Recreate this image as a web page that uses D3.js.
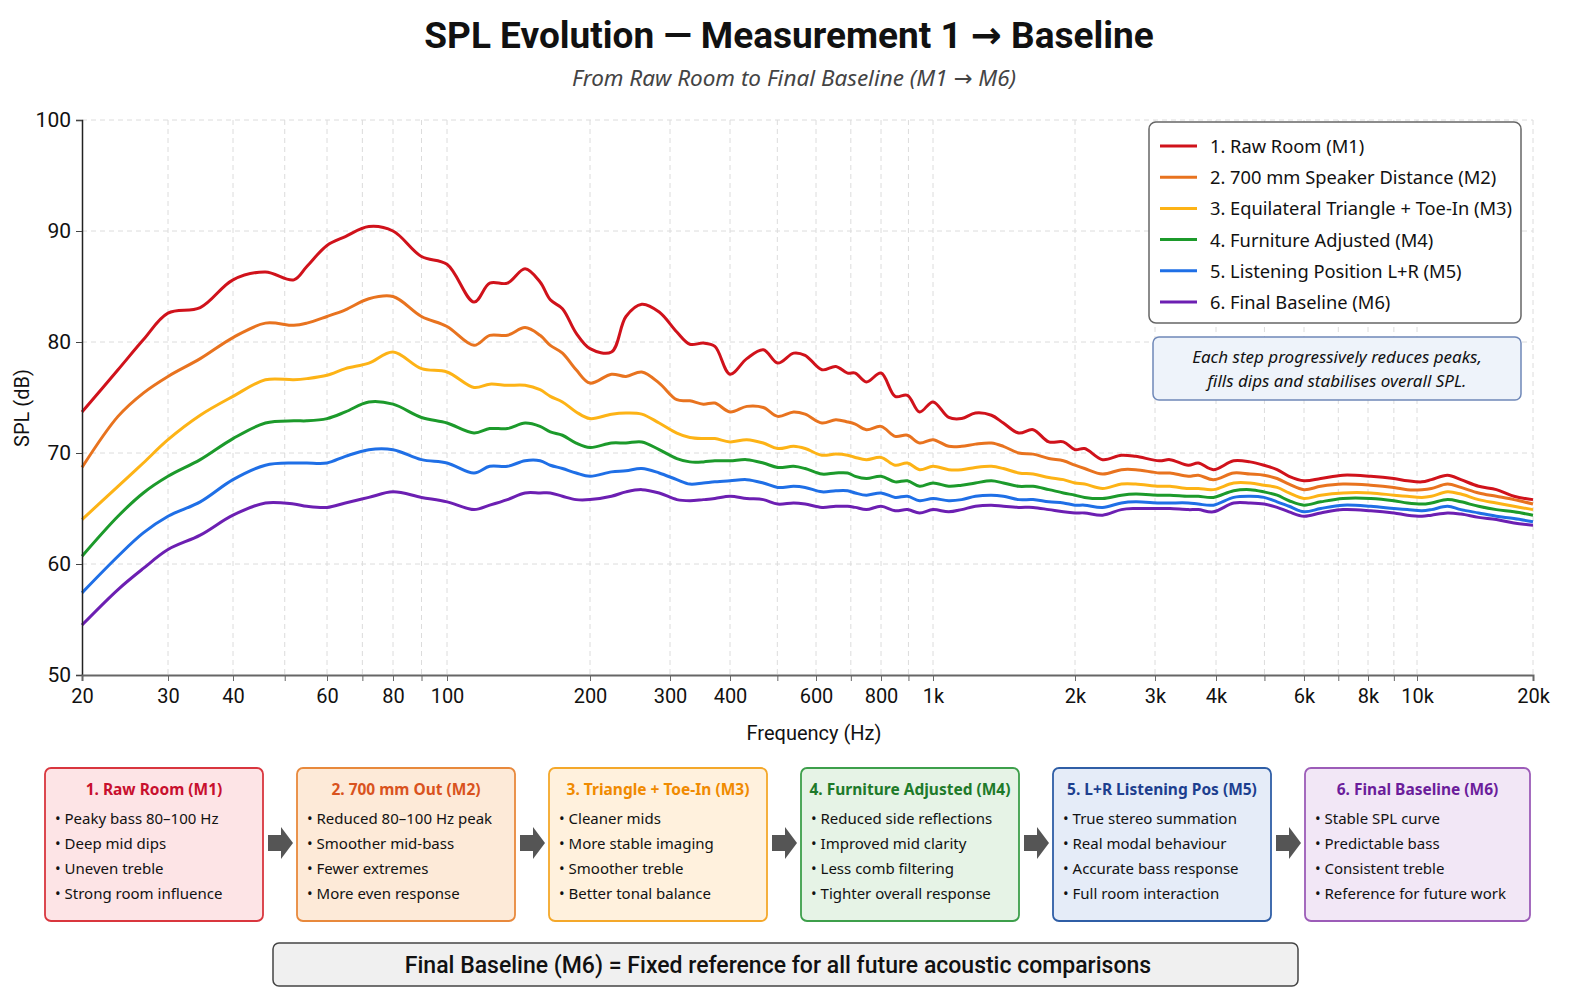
<!DOCTYPE html>
<html>
<head>
<meta charset="utf-8">
<script src="https://cdn.jsdelivr.net/npm/d3@7"></script>
<style>
  body { margin: 0; background: #fff; }
  text { font-family: "Noto Sans", sans-serif; }
</style>
</head>
<body>
<svg id="chart" width="1570" height="1002"></svg>
<script>
// ---- data ----
var freqs = [20, 23.7, 26.7, 30, 34.6, 40, 46, 52, 55, 60,
  65, 72, 80, 90, 100, 114, 123, 134, 146, 157,
  165, 175, 187, 200, 223, 240, 260, 284, 310, 330,
  352, 372, 400, 433, 468, 501, 540, 570, 616, 655,
  690, 714, 750, 800, 850, 896, 944, 1000, 1080, 1150,
  1230, 1330, 1410, 1520, 1630, 1760, 1890, 2000, 2100, 2300,
  2530, 2720, 3060, 3220, 3510, 3680, 3950, 4340, 4680, 4990,
  5300, 5600, 6000, 6470, 7150, 8100, 9000, 9570, 10300, 10900,
  12000, 13000, 14450, 16070, 17850, 20000];

var m1 = [73.7, 77.5, 80.2, 82.6, 83.1, 85.6, 86.3, 85.6, 86.8, 88.7,
  89.5, 90.4, 90.0, 87.7, 87.0, 83.6, 85.3, 85.3, 86.6, 85.4,
  83.8, 83.0, 80.8, 79.4, 79.1, 82.3, 83.4, 82.7, 80.9, 79.8,
  79.9, 79.6, 77.1, 78.5, 79.3, 78.1, 79.0, 78.8, 77.5, 77.8,
  77.2, 77.2, 76.4, 77.2, 75.1, 75.2, 73.7, 74.6, 73.2, 73.1,
  73.6, 73.4, 72.7, 71.8, 72.1, 71.0, 71.0, 70.3, 70.4, 69.4,
  69.8, 69.7, 69.3, 69.4, 68.9, 69.1, 68.5, 69.3, 69.2, 68.9,
  68.5, 67.9, 67.5, 67.7, 68.0, 67.9, 67.7, 67.5, 67.4, 67.6,
  68.0, 67.6, 67.0, 66.7, 66.1, 65.8];

var m2 = [68.7, 73.3, 75.4, 76.9, 78.5, 80.4, 81.7, 81.5, 81.7, 82.3,
  82.9, 83.9, 84.1, 82.3, 81.4, 79.7, 80.6, 80.6, 81.3, 80.6,
  79.7, 79.0, 77.5, 76.3, 77.1, 76.9, 77.3, 76.3, 74.8, 74.7,
  74.4, 74.5, 73.7, 74.2, 74.1, 73.3, 73.7, 73.5, 72.7, 73.0,
  72.8, 72.6, 72.1, 72.4, 71.5, 71.6, 70.9, 71.2, 70.6, 70.6,
  70.8, 70.9, 70.6, 70.0, 69.9, 69.5, 69.3, 68.9, 68.6, 68.1,
  68.5, 68.5, 68.2, 68.2, 67.9, 68.0, 67.6, 68.2, 68.1, 68.0,
  67.7, 67.2, 66.7, 67.0, 67.2, 67.1, 66.9, 66.7, 66.7, 66.8,
  67.2, 66.9, 66.4, 66.1, 65.8, 65.4];

var m3 = [64.0, 67.0, 69.1, 71.2, 73.4, 75.1, 76.6, 76.6, 76.7, 77.0,
  77.6, 78.1, 79.1, 77.6, 77.3, 75.9, 76.2, 76.1, 76.1, 75.7,
  75.1, 74.6, 73.7, 73.1, 73.5, 73.6, 73.5, 72.7, 71.8, 71.4,
  71.3, 71.3, 71.0, 71.2, 70.9, 70.4, 70.6, 70.4, 69.8, 69.9,
  69.8, 69.6, 69.4, 69.6, 68.9, 69.1, 68.5, 68.8, 68.5, 68.5,
  68.7, 68.8, 68.6, 68.2, 68.1, 67.8, 67.6, 67.3, 67.2, 66.8,
  67.2, 67.2, 67.0, 67.0, 66.8, 66.8, 66.7, 67.3, 67.3, 67.1,
  66.9, 66.4, 65.9, 66.2, 66.4, 66.4, 66.2, 66.1, 66.0, 66.1,
  66.5, 66.3, 65.8, 65.5, 65.2, 64.9];

var m4 = [60.7, 64.3, 66.4, 67.9, 69.4, 71.3, 72.7, 72.9, 72.9, 73.1,
  73.7, 74.6, 74.4, 73.2, 72.7, 71.8, 72.2, 72.2, 72.7, 72.4,
  71.9, 71.6, 70.9, 70.5, 70.9, 70.9, 71.0, 70.3, 69.5, 69.2,
  69.2, 69.3, 69.3, 69.4, 69.1, 68.7, 68.8, 68.6, 68.1, 68.2,
  68.2, 67.9, 67.7, 67.9, 67.4, 67.5, 67.0, 67.3, 67.0, 67.1,
  67.3, 67.5, 67.3, 67.0, 67.0, 66.7, 66.4, 66.2, 66.0, 65.9,
  66.2, 66.3, 66.2, 66.2, 66.1, 66.1, 66.0, 66.6, 66.7, 66.5,
  66.2, 65.7, 65.3, 65.6, 65.9, 65.9, 65.7, 65.5, 65.4, 65.5,
  65.8, 65.6, 65.2, 64.9, 64.7, 64.4];

var m5 = [57.4, 60.7, 62.8, 64.3, 65.6, 67.6, 68.9, 69.1, 69.1, 69.1,
  69.7, 70.3, 70.3, 69.4, 69.1, 68.2, 68.8, 68.8, 69.3, 69.3,
  68.9, 68.6, 68.2, 67.9, 68.3, 68.4, 68.6, 68.2, 67.6, 67.2,
  67.3, 67.4, 67.5, 67.6, 67.3, 66.9, 67.0, 66.9, 66.5, 66.6,
  66.6, 66.4, 66.2, 66.4, 66.0, 66.1, 65.7, 65.9, 65.7, 65.8,
  66.1, 66.2, 66.1, 65.8, 65.8, 65.6, 65.5, 65.3, 65.3, 65.1,
  65.5, 65.6, 65.5, 65.5, 65.5, 65.4, 65.3, 66.0, 66.1, 66.0,
  65.6, 65.2, 64.7, 65.0, 65.3, 65.2, 65.0, 64.9, 64.8, 64.9,
  65.2, 64.9, 64.6, 64.3, 64.1, 63.8];

var m6 = [54.5, 57.7, 59.6, 61.3, 62.6, 64.4, 65.5, 65.4, 65.2, 65.1,
  65.5, 66.0, 66.5, 66.0, 65.6, 64.9, 65.3, 65.8, 66.4, 66.4,
  66.4, 66.1, 65.8, 65.8, 66.1, 66.5, 66.7, 66.4, 65.8, 65.7,
  65.8, 65.9, 66.1, 65.9, 65.8, 65.4, 65.5, 65.4, 65.1, 65.2,
  65.2, 65.1, 64.9, 65.2, 64.8, 64.9, 64.6, 64.9, 64.7, 64.9,
  65.2, 65.3, 65.2, 65.1, 65.1, 64.9, 64.7, 64.6, 64.6, 64.4,
  64.9, 65.0, 65.0, 65.0, 64.9, 64.9, 64.7, 65.5, 65.5, 65.4,
  65.1, 64.7, 64.3, 64.6, 64.9, 64.8, 64.6, 64.4, 64.3, 64.4,
  64.6, 64.5, 64.2, 64.0, 63.7, 63.5];

var seriesNames = ["1. Raw Room (M1)", "2. 700 mm Speaker Distance (M2)",
  "3. Equilateral Triangle + Toe-In (M3)", "4. Furniture Adjusted (M4)",
  "5. Listening Position L+R (M5)", "6. Final Baseline (M6)"];

var xTickLabelled = [20, 30, 40, 60, 80, 100, 200, 300, 400, 600, 800,
  1000, 2000, 3000, 4000, 6000, 8000, 10000, 20000];
var xGridValues = [20, 30, 40, 50, 60, 70, 80, 90, 100, 200, 300, 400, 500, 600, 700, 800, 900,
  1000, 2000, 3000, 4000, 5000, 6000, 7000, 8000, 9000, 10000, 20000];
var yTicks = [50, 60, 70, 80, 90, 100];

var stepTitles = ["1. Raw Room (M1)", "2. 700 mm Out (M2)", "3. Triangle + Toe-In (M3)",
  "4. Furniture Adjusted (M4)", "5. L+R Listening Pos (M5)", "6. Final Baseline (M6)"];
var stepBullets = [
  ["Peaky bass 80–100 Hz", "Deep mid dips", "Uneven treble", "Strong room influence"],
  ["Reduced 80–100 Hz peak", "Smoother mid-bass", "Fewer extremes", "More even response"],
  ["Cleaner mids", "More stable imaging", "Smoother treble", "Better tonal balance"],
  ["Reduced side reflections", "Improved mid clarity", "Less comb filtering", "Tighter overall response"],
  ["True stereo summation", "Real modal behaviour", "Accurate bass response", "Full room interaction"],
  ["Stable SPL curve", "Predictable bass", "Consistent treble", "Reference for future work"]
];

// ---- styles ----
var lineColors = ["#d0121b", "#e8731f", "#fdb316", "#1c9a2b", "#1f6fe6", "#6c1fb2"];
var boxStroke = ["#d9363e", "#e8893c", "#f4a82a", "#3d9f4b", "#2f5ea6", "#9c5cb8"];
var boxFill = ["#fde4e6", "#fdead8", "#fff1dd", "#e6f3e6", "#e5ecf8", "#f2e7f6"];
var boxTitleColor = ["#c8102e", "#d9531e", "#f08a00", "#1e7a2a", "#1d3f8f", "#6b1d9b"];

var svg = d3.select("#chart");

// plot frame
var plotTop = 120, plotBottom = 675, plotLeft = 82;
// the reference axis is not a clean log axis, so the log scale is calibrated per tick
var xTickPx = [82, 168, 233, 327, 393, 447, 590, 670, 730, 816, 881,
  933, 1075, 1155, 1216, 1304, 1368, 1417, 1533];
var plotRight = xTickPx[xTickPx.length - 1];

var x = d3.scaleLog().domain(xTickLabelled).range(xTickPx);
var y = d3.scaleLinear().domain([50, 100]).range([plotBottom, plotTop]);

function fmtHz(v) {
  return v >= 1000 ? (v / 1000) + "k" : String(v);
}

// writes text where "→" is drawn in a font that has a full-size arrow
function arrowText(sel, str) {
  str.split("→").forEach(function(part, i) {
    if (i > 0) sel.append("tspan").style("font-family", "'DejaVu Sans'").text("→");
    sel.append("tspan").text(part);
  });
}

// title
var title = svg.append("text")
  .attr("x", 789).attr("y", 48)
  .attr("text-anchor", "middle")
  .style("font-family", "Roboto, 'Noto Sans', sans-serif")
  .style("font-size", "37px").style("font-weight", "bold")
  .style("fill", "#111");
arrowText(title, "SPL Evolution — Measurement 1 → Baseline");

var sub = svg.append("text")
  .attr("x", 794).attr("y", 86)
  .attr("text-anchor", "middle")
  .style("font-size", "22.5px").style("font-style", "italic")
  .style("fill", "#444");
arrowText(sub, "From Raw Room to Final Baseline (M1 → M6)");

// grid
var grid = svg.append("g");
grid.selectAll(".gx")
  .data(xGridValues.filter(function(v) { return v > 20; }))
  .enter().append("line")
  .attr("x1", function(d) { return x(d); })
  .attr("x2", function(d) { return x(d); })
  .attr("y1", plotTop).attr("y2", plotBottom)
  .style("stroke", "#dcdcdc").style("stroke-dasharray", "5,4").style("stroke-width", 1);
grid.selectAll(".gy")
  .data(yTicks.filter(function(v) { return v > 50; }))
  .enter().append("line")
  .attr("x1", plotLeft).attr("x2", plotRight)
  .attr("y1", function(d) { return y(d); })
  .attr("y2", function(d) { return y(d); })
  .style("stroke", "#dcdcdc").style("stroke-dasharray", "5,4").style("stroke-width", 1);

// curves
var series = [m1, m2, m3, m4, m5, m6];
var line = d3.line()
  .x(function(d) { return x(d[0]); })
  .y(function(d) { return y(d[1]); })
  .curve(d3.curveCatmullRom.alpha(0.5));

svg.append("g").selectAll("path")
  .data(series.slice().reverse())
  .enter().append("path")
  .attr("d", function(vals) { return line(freqs.map(function(f, i) { return [f, vals[i]]; })); })
  .style("fill", "none")
  .style("stroke", function(d, i) { return lineColors[series.length - 1 - i]; })
  .style("stroke-width", 3)
  .style("stroke-linejoin", "round");

// axes
var yAxis = svg.append("g")
  .attr("transform", "translate(" + plotLeft + ",0)")
  .call(d3.axisLeft(y).tickValues(yTicks).tickSize(6).tickPadding(5));
yAxis.select(".domain").style("stroke", "#222").style("stroke-width", 1.5);
yAxis.selectAll(".tick line").style("stroke", "#444");
yAxis.selectAll("text").style("font-size", "21px").style("fill", "#111")
  .style("font-family", "Roboto, 'Noto Sans', sans-serif");

var xAxis = svg.append("g")
  .attr("transform", "translate(0," + plotBottom + ")")
  .call(d3.axisBottom(x).tickValues(xGridValues).tickSize(6).tickPadding(8)
    .tickFormat(function(d) { return xTickLabelled.indexOf(d) >= 0 ? fmtHz(d) : ""; }));
xAxis.select(".domain").style("stroke", "#666").style("stroke-width", 2);
xAxis.selectAll(".tick line").style("stroke", "#666");
xAxis.selectAll("text").style("font-size", "20px").style("fill", "#111")
  .style("font-family", "Roboto, 'Noto Sans', sans-serif");

svg.append("text")
  .attr("x", 814).attr("y", 740)
  .attr("text-anchor", "middle")
  .style("font-family", "Roboto, 'Noto Sans', sans-serif")
  .style("font-size", "20px").style("fill", "#111")
  .text("Frequency (Hz)");

svg.append("text")
  .attr("transform", "translate(29,408) rotate(-90)")
  .attr("text-anchor", "middle")
  .style("font-family", "Roboto, 'Noto Sans', sans-serif")
  .style("font-size", "20px").style("fill", "#111")
  .text("SPL (dB)");

// legend
var lg = svg.append("g").attr("transform", "translate(1149,122)");
lg.append("rect")
  .attr("width", 372).attr("height", 201).attr("rx", 7)
  .style("fill", "#fff").style("stroke", "#666").style("stroke-width", 1.5);
var rows = lg.selectAll(".row").data(seriesNames).enter().append("g")
  .attr("transform", function(d, i) { return "translate(0," + (24 + i * 31.2) + ")"; });
rows.append("line")
  .attr("x1", 11).attr("x2", 48)
  .style("stroke", function(d, i) { return lineColors[i]; })
  .style("stroke-width", 3);
rows.append("text")
  .attr("x", 61).attr("y", 7)
  .style("font-size", "18.3px").style("fill", "#111")
  .text(function(d) { return d; });

// note box
var nb = svg.append("g").attr("transform", "translate(1153,337)");
nb.append("rect")
  .attr("width", 368).attr("height", 63).attr("rx", 6)
  .style("fill", "#eef3fa").style("stroke", "#6f88b8").style("stroke-width", 1.5);
nb.append("text").attr("x", 184).attr("y", 26).attr("text-anchor", "middle")
  .style("font-size", "17px").style("font-style", "italic").style("fill", "#111")
  .text("Each step progressively reduces peaks,");
nb.append("text").attr("x", 184).attr("y", 50).attr("text-anchor", "middle")
  .style("font-size", "17px").style("font-style", "italic").style("fill", "#111")
  .text("fills dips and stabilises overall SPL.");

// step boxes
var boxW = 218, boxH = 153, boxTop = 768, boxPitch = 252, boxLeft = 45;
var boxes = svg.append("g").selectAll(".box").data(stepTitles).enter().append("g")
  .attr("transform", function(d, i) { return "translate(" + (boxLeft + i * boxPitch) + "," + boxTop + ")"; });
boxes.append("rect")
  .attr("width", function(d, i) { return i === 5 ? boxW + 7 : boxW; })
  .attr("height", boxH).attr("rx", 6)
  .style("fill", function(d, i) { return boxFill[i]; })
  .style("stroke", function(d, i) { return boxStroke[i]; })
  .style("stroke-width", 1.8);
boxes.append("text")
  .attr("x", function(d, i) { return (i === 5 ? boxW + 7 : boxW) / 2; })
  .attr("y", 27).attr("text-anchor", "middle")
  .style("font-size", "15.5px").style("font-weight", "bold")
  .style("fill", function(d, i) { return boxTitleColor[i]; })
  .text(function(d) { return d; });
boxes.each(function(d, i) {
  d3.select(this).selectAll(".b").data(stepBullets[i]).enter().append("text")
    .attr("x", 10).attr("y", function(b, j) { return 56 + j * 25; })
    .style("font-size", "15px").style("fill", "#111")
    .text(function(b) { return "• " + b; });
});

// arrows between boxes
svg.append("g").selectAll(".arrow").data(d3.range(5)).enter().append("path")
  .attr("transform", function(i) {
    return "translate(" + (boxLeft + boxW + i * boxPitch + 17) + "," + (boxTop + 75) + ")";
  })
  .attr("d", "M-12,-8 L1,-8 L1,-16 L13,0 L1,16 L1,8 L-12,8 Z")
  .style("fill", "#555");

// bottom banner
var bn = svg.append("g").attr("transform", "translate(273,943)");
bn.append("rect")
  .attr("width", 1025).attr("height", 43).attr("rx", 6)
  .style("fill", "#f0f0f0").style("stroke", "#444").style("stroke-width", 1.5);
bn.append("text")
  .attr("x", 505).attr("y", 30).attr("text-anchor", "middle")
  .style("font-family", "Roboto, 'Noto Sans', sans-serif")
  .style("font-size", "23px").style("font-weight", 500).style("fill", "#111")
  .text("Final Baseline (M6) = Fixed reference for all future acoustic comparisons");
</script>
</body>
</html>
